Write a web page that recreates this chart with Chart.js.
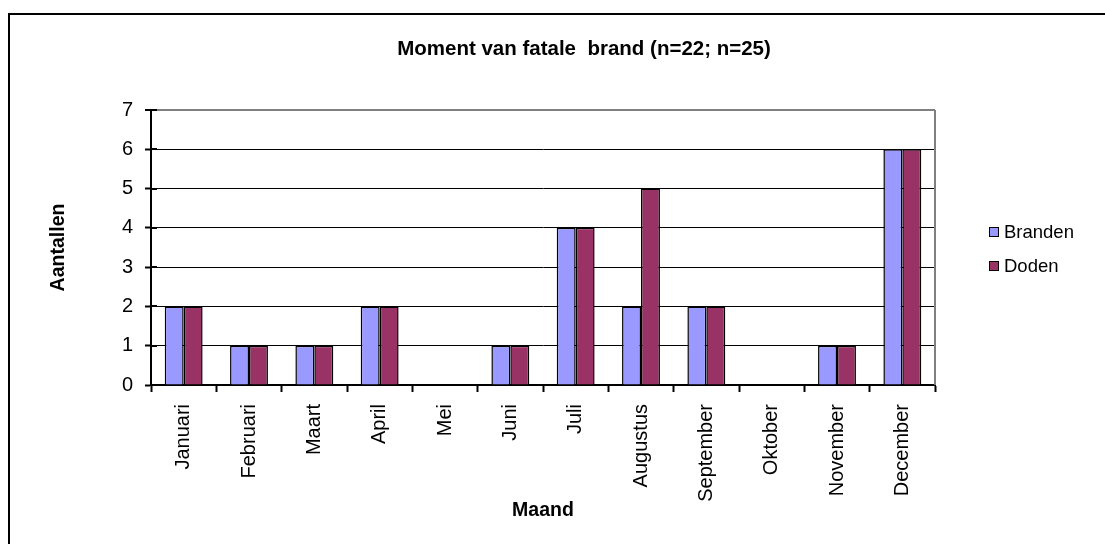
<!DOCTYPE html>
<html><head><meta charset="utf-8">
<script src="https://cdn.jsdelivr.net/npm/chart.js@4/dist/chart.umd.min.js"></script>
<style>html,body{margin:0;padding:0;background:#fff;}canvas{display:block;}</style>
</head><body>
<canvas id="c" width="1105" height="544"></canvas>
<script>
const categories = ['Januari','Februari','Maart','April','Mei','Juni','Juli','Augustus','September','Oktober','November','December'];
const branden = [2,1,1,2,0,1,4,2,2,0,1,6];
const doden = [2,1,1,2,0,1,4,5,2,0,1,6];
const seriesNames = ['Branden','Doden'];
const seriesColors = ['#9999FF','#993366'];
const yTicks = [0,1,2,3,4,5,6,7];
const chartTitle = 'Moment van fatale  brand (n=22; n=25)';
const FONT = "'Liberation Sans', Arial, sans-serif";

const framePlugin = {
  id: 'frame',
  beforeDraw(chart) {
    const ctx = chart.ctx;
    ctx.save();
    ctx.fillStyle = '#fff';
    ctx.fillRect(0,0,chart.width,chart.height);
    ctx.strokeStyle = '#000';
    ctx.lineWidth = 2;
    ctx.beginPath();
    ctx.moveTo(9, chart.height + 5);
    ctx.lineTo(9, 14);
    ctx.lineTo(chart.width + 5, 14);
    ctx.stroke();
    ctx.fillStyle = '#000';
    ctx.font = 'bold 20.5px ' + FONT;
    ctx.textAlign = 'center';
    ctx.textBaseline = 'middle';
    ctx.fillText(chartTitle, 584, 49);
    ctx.restore();
  },
  afterDatasetsDraw(chart) {
    const ctx = chart.ctx, a = chart.chartArea;
    ctx.save();
    ctx.strokeStyle = '#808080';
    ctx.lineWidth = 2;
    ctx.beginPath();
    ctx.moveTo(a.right, a.top);
    ctx.lineTo(a.right, a.bottom);
    ctx.stroke();
    const ys = chart.scales.y;
    ctx.strokeStyle = '#000';
    ctx.lineWidth = 2;
    yTicks.forEach(v => {
      const y = Math.round(ys.getPixelForValue(v));
      ctx.beginPath();
      ctx.moveTo(a.left, y);
      ctx.lineTo(a.left + 6, y);
      ctx.stroke();
    });
    ctx.font = '18.5px ' + FONT;
    ctx.textBaseline = 'middle';
    ctx.textAlign = 'left';
    chart.data.datasets.forEach((ds, i) => {
      const y = 232 + i * 34;
      ctx.fillStyle = ds.backgroundColor;
      ctx.fillRect(990, y - 4, 8, 8);
      ctx.strokeStyle = '#000';
      ctx.lineWidth = 1;
      ctx.strokeRect(989.5, y - 4.5, 9, 9);
      ctx.fillStyle = '#000';
      ctx.fillText(ds.label, 1004, y + 1);
    });
    ctx.restore();
  }
};

new Chart(document.getElementById('c'), {
  type: 'bar',
  data: {
    labels: categories,
    datasets: [branden, doden].map((d, i) => ({
      label: seriesNames[i],
      data: d,
      backgroundColor: seriesColors[i],
      borderColor: '#000',
      borderWidth: 1.5,
      barPercentage: 1,
      categoryPercentage: 0.58
    }))
  },
  options: {
    responsive: false,
    animation: false,
    devicePixelRatio: 1,
    layout: { padding: { left: 0, top: 110, right: 170, bottom: 0 } },
    plugins: {
      legend: { display: false },
      tooltip: { enabled: false },
      title: { display: false }
    },
    scales: {
      x: {
        grid: { offset: true, drawOnChartArea: false, drawTicks: true, tickLength: 7, tickColor: '#000', tickWidth: 2, color: '#000' },
        border: { color: '#000', width: 2 },
        ticks: { autoSkip: false, minRotation: 90, maxRotation: 90, padding: 12, color: '#000', font: { family: FONT, size: 20 } },
        title: { display: true, text: 'Maand', color: '#000', font: { family: FONT, size: 19.5, weight: 'bold', lineHeight: 1.2 }, padding: { top: 0, bottom: 22 } },
        afterFit(s) { s.height = 159; }
      },
      y: {
        min: 0, max: 7,
        afterBuildTicks(s) { s.ticks = yTicks.map(v => ({ value: v })); },
        grid: {
          color: c => (c.tick && c.tick.value === 7) ? '#808080' : '#000',
          lineWidth: c => (c.tick && c.tick.value === 7) ? 2 : 1,
          tickLength: 6, tickColor: '#000', tickWidth: 2, drawTicks: true
        },
        border: { color: '#000', width: 2 },
        ticks: { padding: 12, color: '#000', font: { family: FONT, size: 20 } },
        title: { display: true, text: 'Aantallen', color: '#000', font: { family: FONT, size: 19.5, weight: 'bold', lineHeight: 1.2 }, padding: { top: 47, bottom: 0 } },
        afterFit(s) { s.width = 151; }
      }
    }
  },
  plugins: [framePlugin]
});
</script>
</body></html>
